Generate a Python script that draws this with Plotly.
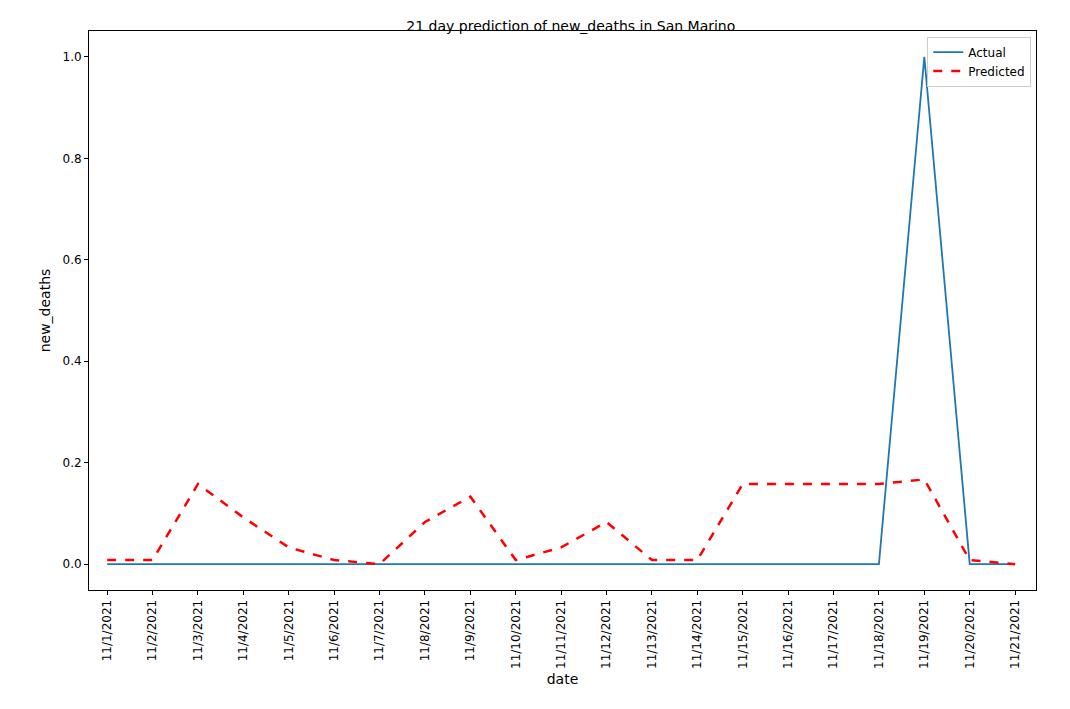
import plotly.graph_objects as go

dates = [f"11/{d}/2021" for d in range(1, 22)]
actual = [0] * 18 + [1, 0, 0]
predicted = [0.008, 0.008, 0.158, 0.092, 0.033, 0.008, 0.0, 0.083, 0.133, 0.008,
             0.033, 0.083, 0.008, 0.008, 0.158, 0.158, 0.158, 0.158, 0.167, 0.008, 0.0]
yticks = [0.0, 0.2, 0.4, 0.6, 0.8, 1.0]

fig = go.Figure()
fig.add_trace(go.Scatter(x=list(range(21)), y=actual, mode="lines", name="Actual",
                         line={"color": "#1f77b4", "width": 1.8}))
fig.add_trace(go.Scatter(x=list(range(21)), y=predicted, mode="lines", name="Predicted",
                         line={"color": "red", "width": 2.5, "dash": "dash"}))

axis = dict(showgrid=False, zeroline=False, showline=True, mirror=True, linecolor="black",
            ticks="outside", tickcolor="black", ticklen=4, automargin=False)
fig.update_layout(
    width=1070, height=709,
    plot_bgcolor="white", paper_bgcolor="white",
    font={"family": "DejaVu Sans", "size": 12, "color": "black"},
    title={"text": "21 day prediction of new_deaths in San Marino", "x": 0.526, "y": 0.982,
           "xanchor": "center", "font": {"size": 14}},
    margin={"l": 81, "r": 42, "t": 23, "b": 127},
    legend={"x": 0.995, "y": 0.99, "xanchor": "right", "yanchor": "top",
            "bordercolor": "#cccccc", "borderwidth": 1, "bgcolor": "white"},
    xaxis=dict(axis, range=[-0.4, 20.46], tickmode="array", tickvals=list(range(21)),
               ticktext=dates, tickangle=-90, title={"text": "date", "standoff": 6}),
    yaxis=dict(axis, range=[-0.051, 1.051], tickmode="array", tickvals=yticks,
               ticktext=[f"{v:.1f}" for v in yticks], title={"text": "new_deaths", "standoff": 8}),
)
fig.write_html("out.html")
